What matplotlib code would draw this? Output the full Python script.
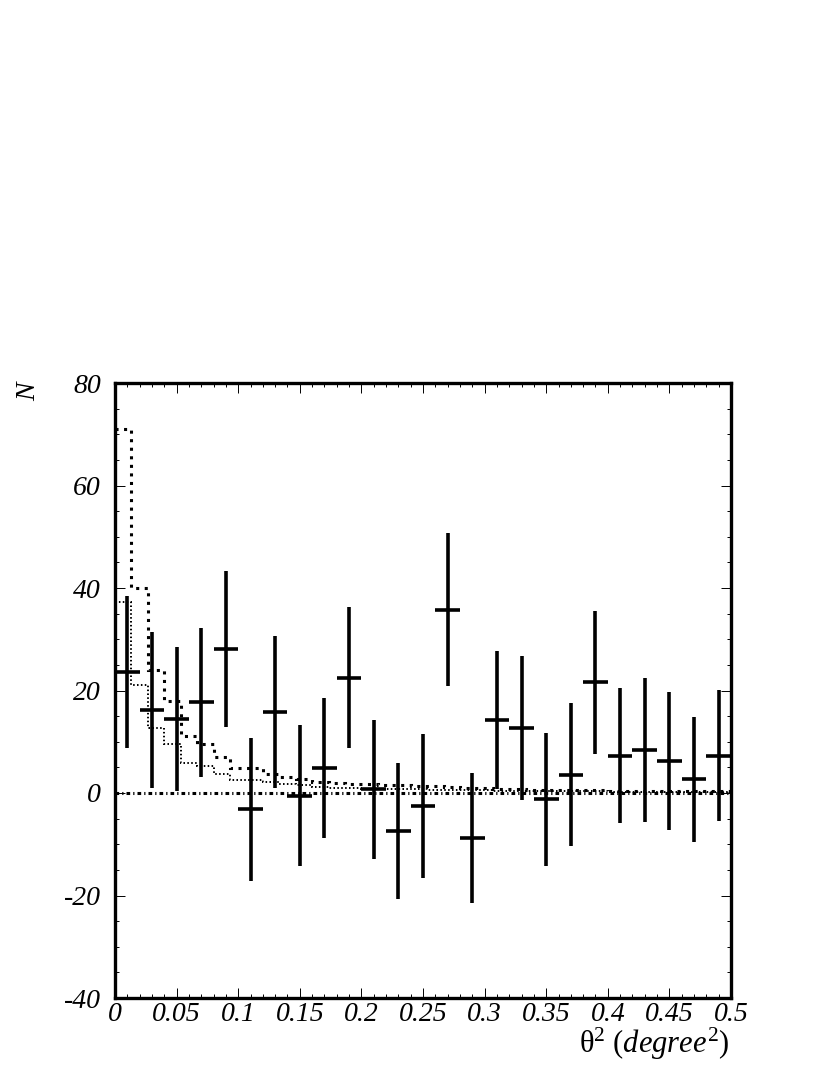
import numpy as np
import matplotlib
matplotlib.use('Agg')
import matplotlib.pyplot as plt
from matplotlib import ticker

plt.rcParams['font.family'] = ['Liberation Serif', 'DejaVu Serif']
plt.rcParams['axes.unicode_minus'] = False
plt.rcParams['mathtext.fontset'] = 'custom'
plt.rcParams['mathtext.rm'] = 'Liberation Serif'
plt.rcParams['mathtext.it'] = 'Liberation Serif:italic'

# excess counts per theta^2 bin (bin width 0.02)
theta2_centers = [0.01, 0.03, 0.05, 0.07, 0.09, 0.11, 0.13, 0.15, 0.17, 0.19,
                  0.21, 0.23, 0.25, 0.27, 0.29, 0.31, 0.33, 0.35, 0.37, 0.39,
                  0.41, 0.43, 0.45, 0.47, 0.49]
excess = [23.6, 16.2, 14.4, 17.7, 28.1, -3.2, 15.8, -0.5, 4.9, 22.5,
          0.7, -7.4, -2.5, 35.8, -8.7, 14.2, 12.7, -1.2, 3.6, 21.6,
          7.3, 8.4, 6.2, 2.7, 7.3]
excess_err = [14.8, 15.2, 14.0, 14.5, 15.3, 14.0, 14.8, 13.8, 13.7, 13.7,
              13.6, 13.2, 14.1, 15.0, 12.7, 13.5, 14.0, 13.0, 13.9, 14.0,
              13.2, 14.0, 13.5, 12.2, 12.8]
half_width = 0.01

# simulated point-source profiles (finer binning, 1/75 wide)
hist_edges = np.linspace(0, 38 / 75, 39)
sim_dashed = [71.0, 40.0, 24.0, 18.0, 11.2, 9.5, 7.1, 4.9, 4.9, 3.8,
              3.2, 2.8, 2.2, 2.0, 1.8, 1.7, 1.6, 1.5, 1.4, 1.3,
              1.2, 1.0, 0.9, 0.8, 0.7, 0.65, 0.6, 0.55, 0.5, 0.5,
              0.45, 0.45, 0.4, 0.4, 0.35, 0.35, 0.3, 0.3]
sim_dotted = [37.3, 21.0, 12.7, 9.5, 5.9, 5.3, 3.8, 2.6, 2.5, 2.1,
              1.7, 1.5, 1.2, 1.0, 0.9, 0.85, 0.8, 0.75, 0.7, 0.65,
              0.6, 0.55, 0.5, 0.45, 0.4, 0.35, 0.35, 0.3, 0.3, 0.3,
              0.25, 0.25, 0.25, 0.2, 0.2, 0.2, 0.2, 0.2]

fig = plt.figure(figsize=(8.3, 10.75), dpi=100)
ax = fig.add_axes([115 / 830, 77 / 1075, 616 / 830, 615 / 1075])

# histograms
ax.stairs(sim_dashed, hist_edges, baseline=None, color='black', lw=2.2,
          linestyle=(0, (1, 1.8)))
ax.stairs(sim_dotted, hist_edges, baseline=None, color='black', lw=1.4,
          linestyle=(0, (0.8, 1.2)))
ax.axhline(0, color='black', lw=2.2, linestyle=(0, (1.2, 1.0, 0.4, 1.0)))

# data points
ax.errorbar(theta2_centers, excess, yerr=excess_err, xerr=half_width,
            fmt='none', ecolor='black', elinewidth=2.6, capsize=0)

ax.set_xlim(0, 0.5)
ax.set_ylim(-40, 80)

ax.xaxis.set_major_locator(ticker.MultipleLocator(0.05))
ax.xaxis.set_minor_locator(ticker.MultipleLocator(0.01))
ax.yaxis.set_major_locator(ticker.MultipleLocator(20))
ax.yaxis.set_minor_locator(ticker.MultipleLocator(5))
fmt = ticker.FuncFormatter(lambda v, p: f'{v:g}')
ax.xaxis.set_major_formatter(fmt)
ax.yaxis.set_major_formatter(fmt)

ax.tick_params(which='both', direction='in', top=True, right=True,
               width=0.7, color='black')
ax.tick_params(which='major', length=7)
ax.tick_params(which='minor', length=3.2)
ax.tick_params(axis='x', which='major', pad=3)
ax.tick_params(axis='y', which='major', pad=10)
for lab in ax.get_xticklabels() + ax.get_yticklabels():
    lab.set_fontstyle('italic')
    lab.set_fontsize(20)

for s in ax.spines.values():
    s.set_linewidth(2.4)

fig.text(729 / 830, (1075 - 1053) / 1075,
         r'$\mathrm{\theta}^{2}\ \mathit{(degree^{2})}$',
         ha='right', va='baseline', fontsize=22)
fig.text(29 / 830, 1 - 392 / 1075, 'N', rotation=90, ha='center',
         va='center', fontsize=20, fontstyle='italic')

fig.savefig('out.png', dpi=100)
